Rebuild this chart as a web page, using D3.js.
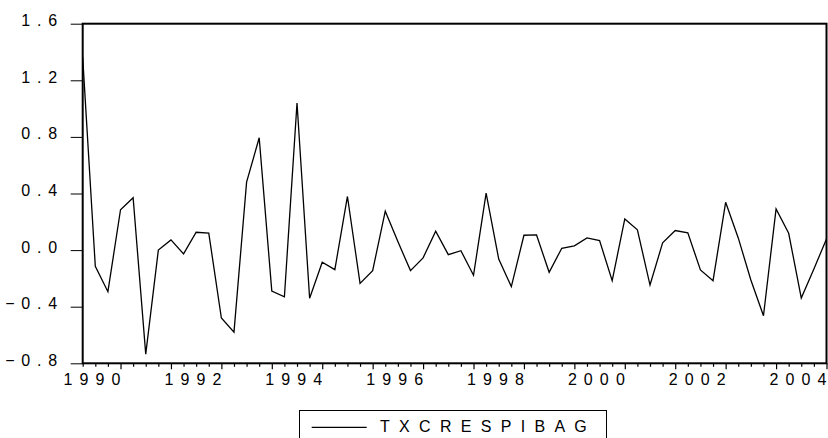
<!DOCTYPE html>
<html>
<head>
<meta charset="utf-8">
<script src="https://cdn.jsdelivr.net/npm/d3@7"></script>
<style>
  body { margin: 0; background: #fff; }
  svg text { font-family: "Liberation Sans", Arial, sans-serif; fill: #000; }
</style>
</head>
<body>
<div class="chart"></div>
<script>
// quarterly observations, 1990Q1 .. 2004Q4
var startYear = 1990
var seriesName = "TXCRESPIBAG"
var values = [
  1.36, -0.115, -0.294, 0.285, 0.37, -0.735, 0.0, 0.072, -0.027, 0.126,
  0.12, -0.48, -0.58, 0.48, 0.794, -0.29, -0.33, 1.04, -0.34, -0.086,
  -0.138, 0.379, -0.235, -0.145, 0.275, 0.06, -0.145, -0.055, 0.133, -0.032,
  -0.004, -0.178, 0.402, -0.063, -0.258, 0.105, 0.107, -0.157, 0.013, 0.03,
  0.086, 0.067, -0.216, 0.22, 0.143, -0.247, 0.051, 0.138, 0.122, -0.14,
  -0.216, 0.338, 0.086, -0.211, -0.464, 0.291, 0.119, -0.339, -0.133, 0.079
]
var yTicks = [-0.8, -0.4, 0.0, 0.4, 0.8, 1.2, 1.6]
var yearLabels = ["1990", "1992", "1994", "1996", "1998", "2000", "2002", "2004"]

// spaced-out text like the eviews output, last char without trailing space
function spaced(sel, str, ls){
	sel.text(null);
	sel.append("tspan").style("letter-spacing", ls + "px").text(str.slice(0, -1));
	sel.append("tspan").style("letter-spacing", "0px").text(str.slice(-1));
}

function makeChart(){
	var width = 828,
			height = 438;
	var left = 82.7, right = 826.5, top = 23.7, bottom = 363.3;

	var svg = d3.select(".chart").append("svg")
			.attr("width", width)
			.attr("height", height);

	var x = d3.scaleLinear()
			.domain([0, values.length - 1])
			.range([left, right]);

	var y = d3.scaleLinear()
			.domain([-0.8, 1.6])
			.range([bottom, top]);

	// y axis ticks + labels
	var fmt = d3.format(".1f");
	var yAxis = svg.append("g")
			.attr("transform", "translate(" + left + ",0)")
			.call(d3.axisLeft(y).tickValues(yTicks).tickSize(12).tickFormat(fmt));
	yAxis.select(".domain").remove();
	yAxis.selectAll("line").attr("stroke", "#000").attr("stroke-width", 1);
	yAxis.selectAll("text")
			.attr("x", -25.5)
			.attr("dy", null)
			.attr("y", 2)
			.style("font-size", "16px")
			.style("font-family", '"Liberation Sans", Arial, sans-serif')
			.each(function(d){ spaced(d3.select(this), fmt(d), 6.8) });

	// quarter ticks
	var idx = d3.range(values.length);
	var minor = svg.append("g")
			.attr("transform", "translate(0," + bottom + ")")
			.call(d3.axisBottom(x).tickValues(idx.filter(function(i){ return i % 4 != 3 })).tickSize(3.5).tickFormat(""));
	minor.select(".domain").remove();
	var major = svg.append("g")
			.attr("transform", "translate(0," + bottom + ")")
			.call(d3.axisBottom(x).tickValues(idx.filter(function(i){ return i % 4 == 3 })).tickSize(6).tickFormat(""));
	major.select(".domain").remove();
	minor.selectAll("line").attr("stroke", "#000").attr("stroke-width", 1.2);
	major.selectAll("line").attr("stroke", "#000").attr("stroke-width", 1.2);

	// year labels, right aligned on the Q4 tick
	svg.append("g").selectAll("text")
			.data(yearLabels)
		.enter().append("text")
			.attr("x", function(d){ return x((+d - startYear) * 4 + 3) })
			.attr("y", 385)
			.attr("text-anchor", "end")
			.style("font-size", "16px")
			.each(function(d){ spaced(d3.select(this), d, 7.1) });

	// series
	var line = d3.line()
			.x(function(d, i){ return x(i) })
			.y(function(d){ return y(d) });
	svg.append("path")
			.datum(values)
			.attr("d", line)
			.attr("fill", "none")
			.attr("stroke", "#000")
			.attr("stroke-width", 1.3)
			.attr("stroke-linejoin", "miter");

	// frame
	svg.append("rect")
			.attr("x", left)
			.attr("y", top)
			.attr("width", right - left)
			.attr("height", bottom - top)
			.attr("fill", "none")
			.attr("stroke", "#000")
			.attr("stroke-width", 2);

	// legend
	var legend = svg.append("g");
	legend.append("rect")
			.attr("x", 299.5)
			.attr("y", 410.5)
			.attr("width", 307)
			.attr("height", 40)
			.attr("fill", "none")
			.attr("stroke", "#000")
			.attr("stroke-width", 1);
	legend.append("line")
			.attr("x1", 311.7).attr("x2", 366.7)
			.attr("y1", 427.3).attr("y2", 427.3)
			.attr("stroke", "#000")
			.attr("stroke-width", 1.3);
	legend.append("text")
			.attr("x", 380)
			.attr("y", 432)
			.style("font-size", "16px")
			.each(function(){ spaced(d3.select(this), seriesName, 9.3) });
}

makeChart();
</script>
</body>
</html>
